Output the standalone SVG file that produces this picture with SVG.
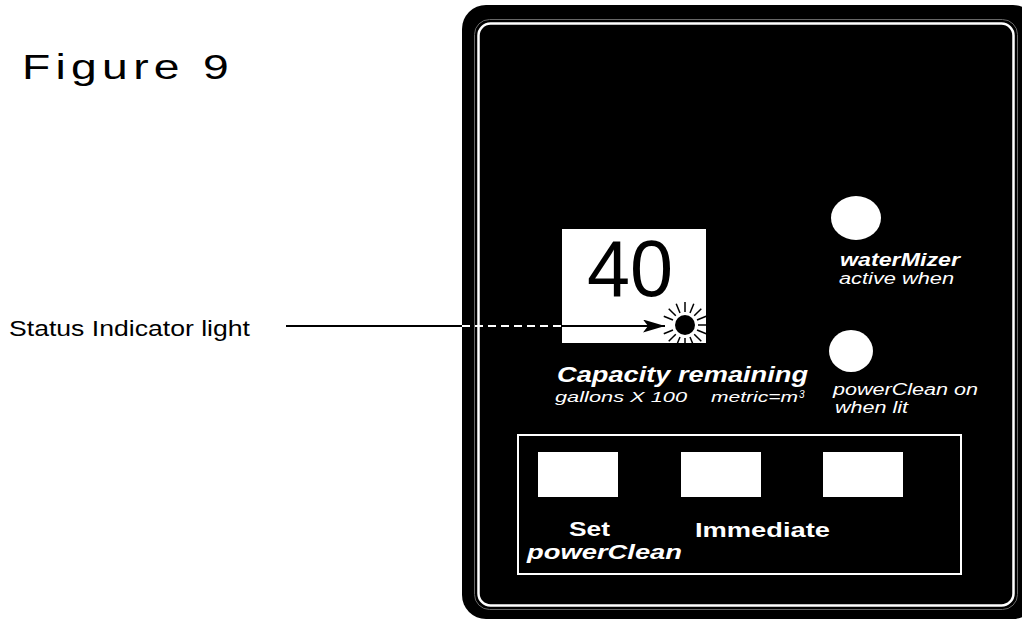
<svg xmlns="http://www.w3.org/2000/svg" width="1022" height="621" viewBox="0 0 1022 621">
  <style>
    .t { font-family: "Liberation Sans", Arial, sans-serif; }
    .w { fill: #fff; }
    .bi { font-weight: bold; font-style: italic; }
    .i { font-style: italic; }
    .b { font-weight: bold; }
    .btn { fill: #fff; }
  </style>
  <defs>
    <marker id="ah" markerUnits="userSpaceOnUse" markerWidth="24" markerHeight="14" refX="22" refY="6.5" orient="auto">
      <path d="M0,0 L22,6.5 L0,13 L5,6.5 Z" fill="#000"/>
    </marker>
  </defs>
  <rect width="1022" height="621" fill="#fff"/>

  <g id="title">
    <text class="t" x="22" y="79" font-size="35" letter-spacing="4" textLength="212" lengthAdjust="spacingAndGlyphs">Figure 9</text>
  </g>

  <g id="panel">
    <rect x="462" y="5" width="575" height="614" rx="24" fill="#000"/>
    <rect x="474.5" y="19.5" width="543" height="590" rx="15" fill="none" stroke="#666" stroke-width="1"/>
    <rect x="478.5" y="23.5" width="535" height="582" rx="12" fill="none" stroke="#fff" stroke-width="2.5"/>
  </g>

  <g id="display">
    <rect x="562" y="229" width="144" height="114" fill="#fff"/>
    <text class="t" x="587" y="296" font-size="80" textLength="86" lengthAdjust="spacingAndGlyphs">40</text>
  </g>

  <g id="status-light">
    <circle cx="685" cy="325" r="10" fill="#000"/>
    <g stroke="#000" stroke-width="1.5">
      <line x1="698" y1="325" x2="708" y2="325"/>
      <line x1="697" y1="330" x2="706.2" y2="333.8"/>
      <line x1="694.2" y1="334.2" x2="701.3" y2="341.3"/>
      <line x1="690" y1="337" x2="693.8" y2="346.2"/>
      <line x1="685" y1="338" x2="685" y2="348"/>
      <line x1="680" y1="337" x2="676.2" y2="346.2"/>
      <line x1="675.8" y1="334.2" x2="668.7" y2="341.3"/>
      <line x1="673" y1="330" x2="663.8" y2="333.8"/>
      <line x1="673" y1="320" x2="663.8" y2="316.2"/>
      <line x1="675.8" y1="315.8" x2="668.7" y2="308.7"/>
      <line x1="680" y1="313" x2="676.2" y2="303.8"/>
      <line x1="685" y1="312" x2="685" y2="302"/>
      <line x1="690" y1="313" x2="693.8" y2="303.8"/>
      <line x1="694.2" y1="315.8" x2="701.3" y2="308.7"/>
      <line x1="697" y1="320" x2="706.2" y2="316.2"/>
    </g>
  </g>

  <g id="capacity-label">
    <text class="t w bi" x="557" y="382" font-size="22" textLength="251" lengthAdjust="spacingAndGlyphs">Capacity remaining</text>
    <text class="t w i" x="555" y="402" font-size="14" textLength="132" lengthAdjust="spacingAndGlyphs">gallons X 100</text>
    <text class="t w i" x="711" y="402" font-size="14" textLength="87" lengthAdjust="spacingAndGlyphs">metric=m</text>
    <text class="t w i" x="799" y="398" font-size="10">3</text>
  </g>

  <g id="watermizer">
    <ellipse cx="856" cy="218" rx="25" ry="22" fill="#fff"/>
    <text class="t w bi" x="840" y="266" font-size="18" textLength="120" lengthAdjust="spacingAndGlyphs">waterMizer</text>
    <text class="t w i" x="839" y="284" font-size="16" textLength="115" lengthAdjust="spacingAndGlyphs">active when</text>
  </g>

  <g id="powerclean-light">
    <ellipse cx="851" cy="351" rx="22" ry="21" fill="#fff"/>
    <text class="t w i" x="833" y="395" font-size="16" textLength="145" lengthAdjust="spacingAndGlyphs">powerClean on</text>
    <text class="t w i" x="835" y="413" font-size="16" textLength="73" lengthAdjust="spacingAndGlyphs">when lit</text>
  </g>

  <g id="buttons">
    <rect x="518" y="435" width="443" height="139" fill="none" stroke="#fff" stroke-width="2"/>
    <rect class="btn" x="538" y="452" width="80" height="45"/>
    <rect class="btn" x="681" y="452" width="80" height="45"/>
    <rect class="btn" x="823" y="452" width="80" height="45"/>
    <text class="t w b" x="569" y="536" font-size="21" textLength="41" lengthAdjust="spacingAndGlyphs">Set</text>
    <text class="t w b" x="695" y="537" font-size="21" textLength="135" lengthAdjust="spacingAndGlyphs">Immediate</text>
    <text class="t w bi" x="527" y="559" font-size="20" textLength="155" lengthAdjust="spacingAndGlyphs">powerClean</text>
  </g>

  <g id="callout-label">
    <text class="t" x="9" y="336" font-size="22" textLength="241" lengthAdjust="spacingAndGlyphs">Status Indicator light</text>
  </g>

  <g id="connectors">
    <line x1="286" y1="326" x2="462" y2="326" stroke="#000" stroke-width="2"/>
    <line x1="462" y1="326" x2="562" y2="326" stroke="#fff" stroke-width="2" stroke-dasharray="8 5"/>
    <line x1="562" y1="326" x2="665" y2="326" stroke="#000" stroke-width="2" marker-end="url(#ah)"/>
  </g>
</svg>
